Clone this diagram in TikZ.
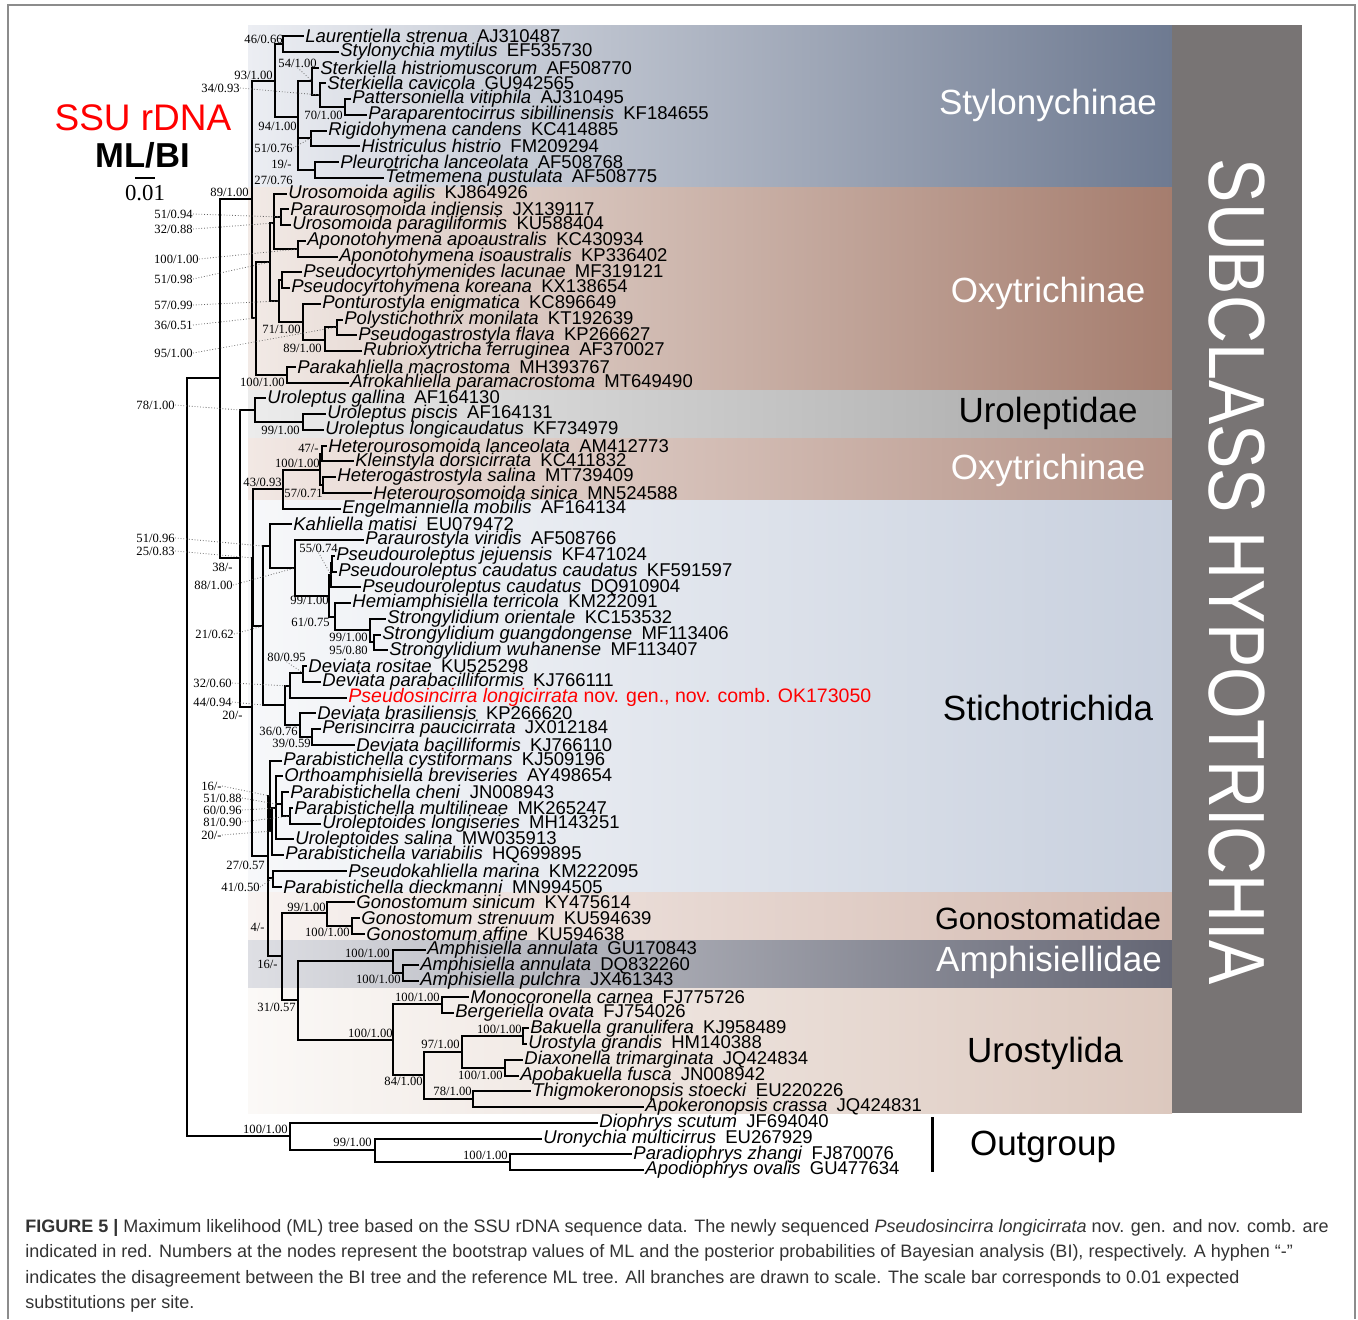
\documentclass[tikz,border=0pt]{standalone}
\usepackage{fontspec}
\usepackage{graphicx}
\setmainfont{Liberation Sans}
\newfontfamily\numserif{Liberation Serif}
\usetikzlibrary{positioning}

\definecolor{styL}{RGB}{236,238,243}
\definecolor{styR}{RGB}{110,122,145}
\definecolor{oxyL}{RGB}{242,234,230}
\definecolor{oxyR}{RGB}{165,125,110}
\definecolor{uroL}{RGB}{236,236,236}
\definecolor{uroR}{RGB}{165,165,165}
\definecolor{oxbL}{RGB}{242,232,228}
\definecolor{oxbR}{RGB}{180,146,134}
\definecolor{stiL}{RGB}{247,248,250}
\definecolor{stiR}{RGB}{200,208,222}
\definecolor{gonL}{RGB}{248,243,241}
\definecolor{gonR}{RGB}{212,186,176}
\definecolor{amphL}{RGB}{222,223,228}
\definecolor{amphR}{RGB}{100,102,116}
\definecolor{ustL}{RGB}{251,249,247}
\definecolor{ustR}{RGB}{220,200,190}
\definecolor{subgray}{RGB}{120,116,116}

\newcommand\taxon[2]{\textit{#1}\enspace#2}
\newcommand\leaffont{\fontsize{9.25}{10}\selectfont}
\newcommand\suppfont{\numserif\fontsize{6.3}{7}\selectfont}

\tikzset{
  leaf/.style={anchor=west, inner sep=0.5pt, font=\leaffont},
  supp/.style={anchor=east, inner sep=0pt, font=\suppfont},
  branch/.style={line width=1pt},
  leader/.style={densely dotted, line width=0.4pt, black!60},
  clade/.style={font=\fontsize{17.5}{18}\selectfont}
}

\begin{document}
\begin{tikzpicture}[x=0.5pt, y=-0.5pt]
  \useasboundingbox (0,0) rectangle (1358,1319);
  \fill[white] (0,0) rectangle (1358,1319);
  \draw[black!45, line width=0.6pt] (8,1319) -- (8,5) -- (1355,5) -- (1355,1319);

  % coloured bands behind the clades
  \shade[left color=styL, right color=styR] (248,25) rectangle (1172,187);
  \shade[left color=oxyL, right color=oxyR] (248,187) rectangle (1172,390);
  \shade[left color=uroL, right color=uroR] (248,390) rectangle (1172,438);
  \shade[left color=oxbL, right color=oxbR] (248,438) rectangle (1172,500);
  \shade[left color=stiL, right color=stiR] (248,500) rectangle (1172,892);
  \shade[left color=gonL, right color=gonR] (248,892) rectangle (1172,940);
  \shade[left color=amphL, right color=amphR] (248,940) rectangle (1172,988);
  \shade[left color=ustL, right color=ustR] (248,988) rectangle (1172,1113);
  \fill[subgray] (1172,25) rectangle (1302,1113);

  % title and scale bar
  \node[red, font=\fontsize{18.5}{19}\selectfont] (title) at (143,118) {SSU rDNA};
  \node[font=\bfseries\fontsize{17.3}{19}\selectfont] (method) at (143,155) {ML/BI};
  \draw[line width=1pt] (135,178) -- (155,178);
  \node[font=\numserif\fontsize{11.4}{12}\selectfont] (scale) at (145,193) {0.01};

  % taxa
  \foreach \x/\name/\acc [count=\i] in {
    304/Laurentiella strenua/AJ310487, 339/Stylonychia mytilus/EF535730,
    319/Sterkiella histriomuscorum/AF508770, 326/Sterkiella cavicola/GU942565,
    351/Pattersoniella vitiphila/AJ310495, 367/Paraparentocirrus sibillinensis/KF184655,
    327/Rigidohymena candens/KC414885, 360/Histriculus histrio/FM209294,
    339/Pleurotricha lanceolata/AF508768, 384/Tetmemena pustulata/AF508775,
    287/Urosomoida agilis/KJ864926, 289/Paraurosomoida indiensis/JX139117,
    291/Urosomoida paragiliformis/KU588404, 306/Aponotohymena apoaustralis/KC430934,
    338/Aponotohymena isoaustralis/KP336402, 302/Pseudocyrtohymenides lacunae/MF319121,
    290/Pseudocyrtohymena koreana/KX138654, 321/Ponturostyla enigmatica/KC896649,
    343/Polystichothrix monilata/KT192639, 357/Pseudogastrostyla flava/KP266627,
    362/Rubrioxytricha ferruginea/AF370027, 296/Parakahliella macrostoma/MH393767,
    349/Afrokahliella paramacrostoma/MT649490, 266/Uroleptus gallina/AF164130,
    326/Uroleptus piscis/AF164131, 324/Uroleptus longicaudatus/KF734979,
    327/Heterourosomoida lanceolata/AM412773, 354/Kleinstyla dorsicirrata/KC411832,
    336/Heterogastrostyla salina/MT739409, 372/Heterourosomoida sinica/MN524588,
    341/Engelmanniella mobilis/AF164134, 292/Kahliella matisi/EU079472,
    364/Paraurostyla viridis/AF508766, 335/Pseudouroleptus jejuensis/KF471024,
    337/Pseudouroleptus caudatus caudatus/KF591597, 361/Pseudouroleptus caudatus/DQ910904,
    351/Hemiamphisiella terricola/KM222091, 386/Strongylidium orientale/KC153532,
    381/Strongylidium guangdongense/MF113406, 388/Strongylidium wuhanense/MF113407,
    307/Deviata rositae/KU525298, 321/Deviata parabacilliformis/KJ766111}
    \node[leaf] (l\i) at (\x,{36+15.75*(\i-1)}) {\taxon{\name}{\acc}};
  \node[leaf, red, font=\fontsize{9.75}{10}\selectfont] (l43) at (347,697.5)
    {\textit{Pseudosincirra longicirrata} nov. gen., nov. comb. OK173050};
  \foreach \x/\name/\acc [count=\i from 44] in {
    316/Deviata brasiliensis/KP266620, 321/Perisincirra paucicirrata/JX012184,
    355/Deviata bacilliformis/KJ766110, 282/Parabistichella cystiformans/KJ509196,
    283/Orthoamphisiella breviseries/AY498654, 289/Parabistichella cheni/JN008943,
    293/Parabistichella multilineae/MK265247, 321/Uroleptoides longiseries/MH143251,
    294/Uroleptoides salina/MW035913, 284/Parabistichella variabilis/HQ699895,
    347/Pseudokahliella marina/KM222095, 282/Parabistichella dieckmanni/MN994505,
    355/Gonostomum sinicum/KY475614, 360/Gonostomum strenuum/KU594639,
    365/Gonostomum affine/KU594638, 426/Amphisiella annulata/GU170843,
    419/Amphisiella annulata/DQ832260, 419/Amphisiella pulchra/JX461343,
    469/Monocoronella carnea/FJ775726, 454/Bergeriella ovata/FJ754026,
    529/Bakuella granulifera/KJ958489, 527/Urostyla grandis/HM140388,
    523/Diaxonella trimarginata/JQ424834, 519/Apobakuella fusca/JN008942,
    531/Thigmokeronopsis stoecki/EU220226, 644/Apokeronopsis crassa/JQ424831,
    598/Diophrys scutum/JF694040, 542/Uronychia multicirrus/EU267929,
    632/Paradiophrys zhangi/FJ870076, 644/Apodiophrys ovalis/GU477634}
    \node[leaf] (l\i) at (\x,{36+15.75*(\i-1)}) {\taxon{\name}{\acc}};

  % internal nodes
  \coordinate (A) at (283,44);   \coordinate (G) at (345,107);
  \coordinate (F) at (320,95);   \coordinate (E) at (312,81);
  \coordinate (H) at (311,138);  \coordinate (I) at (315,170);
  \coordinate (C) at (298,117);  \coordinate (B) at (275,81);
  \coordinate (Nsty) at (252,199);
  \coordinate (P) at (281,217);  \coordinate (Apo) at (298,249);
  \coordinate (U) at (274,223);  \coordinate (Ps) at (282,280);
  \coordinate (PG) at (337,327); \coordinate (PGR) at (325,340);
  \coordinate (Pt) at (303,322); \coordinate (Q) at (279,301);
  \coordinate (O270) at (270,262); \coordinate (K) at (287,375);
  \coordinate (O256) at (256,318);
  \coordinate (UP) at (303,422); \coordinate (UL) at (255,410);
  \coordinate (HK) at (322,454); \coordinate (HS) at (323,485);
  \coordinate (HX) at (320,470); \coordinate (EH) at (283,489);
  \coordinate (SG) at (374,642); \coordinate (ST) at (370,630);
  \coordinate (HS2) at (335,617); \coordinate (PJ1) at (332,563);
  \coordinate (PJ) at (331,575); \coordinate (PU) at (329,596);
  \coordinate (PP) at (295,568); \coordinate (KP) at (270,546);
  \coordinate (DR) at (303,673); \coordinate (DP) at (290,686);
  \coordinate (PB) at (312,737); \coordinate (DBr) at (300,725);
  \coordinate (DB) at (285,705); \coordinate (N263) at (263,626);
  \coordinate (NE) at (253,558);
  \coordinate (PM) at (290,816); \coordinate (PC) at (282,804);
  \coordinate (PO) at (276,808); \coordinate (PV) at (272,831);
  \coordinate (PY) at (270,796); \coordinate (PK) at (273,878);
  \coordinate (GA) at (352,926); \coordinate (GS) at (327,913);
  \coordinate (AP) at (403,973); \coordinate (AM) at (393,961);
  \coordinate (MB) at (442,1004); \coordinate (BU) at (523,1036);
  \coordinate (DA) at (505,1068); \coordinate (BG) at (462,1052);
  \coordinate (TA) at (473,1099); \coordinate (N424) at (424,1075);
  \coordinate (UR) at (393,1040); \coordinate (AU) at (298,1000);
  \coordinate (N282) at (282,956); \coordinate (N268c) at (268,917);
  \coordinate (N268) at (268,856); \coordinate (N252b) at (252,707);
  \coordinate (N240) at (240,558); \coordinate (N220) at (220,378);
  \coordinate (O3) at (510,1162); \coordinate (O2) at (375,1150);
  \coordinate (Out) at (290,1136); \coordinate (root) at (187,757);

  % branches
  \foreach \p/\c in {A/l1, A/l2, G/l5, G/l6, F/l4, F/G, E/l3, E/F, H/l7, H/l8,
      I/l9, I/l10, C/E, C/H, C/I, B/A, B/C, Nsty/B, Nsty/O256,
      P/l12, P/l13, Apo/l14, Apo/l15, U/l11, U/P, U/Apo, Ps/l16, Ps/l17,
      PG/l19, PG/l20, PGR/PG, PGR/l21, Pt/l18, Pt/PGR, Q/Ps, Q/Pt,
      O270/U, O270/Q, K/l22, K/l23, O256/O270, O256/K,
      UP/l25, UP/l26, UL/l24, UL/UP,
      HK/l27, HK/l28, HS/l29, HS/l30, HX/HK, HX/HS, EH/HX, EH/l31,
      SG/l39, SG/l40, ST/l38, ST/SG, HS2/l37, HS2/ST, PJ1/l34, PJ1/l35,
      PJ/PJ1, PJ/l36, PU/PJ, PU/HS2, PP/l33, PP/PU, KP/l32, KP/PP,
      DR/l41, DR/l42, DP/DR, DP/l43, PB/l45, PB/l46, DBr/l44, DBr/PB,
      DB/DP, DB/DBr, N263/KP, N263/DB, NE/EH, NE/N263,
      PM/l50, PM/l51, PC/l49, PC/PM, PO/l48, PO/PC, PO/l52, PV/PO, PV/l53,
      PY/l47, PY/PV, PK/l54, PK/l55,
      GA/l57, GA/l58, GS/l56, GS/GA, AP/l60, AP/l61, AM/l59, AM/AP,
      MB/l62, MB/l63, BU/l64, BU/l65, DA/l66, DA/l67, BG/BU, BG/DA,
      TA/l68, TA/l69, N424/BG, N424/TA, UR/MB, UR/N424, AU/AM, AU/UR,
      N282/GS, N282/AU, N268c/PK, N268c/N282, N268/PY, N268/N268c,
      N252b/NE, N252b/N268, N240/UL, N240/N252b, N220/Nsty, N220/N240,
      O3/l72, O3/l73, O2/l71, O2/O3, Out/l70, Out/O2, root/N220, root/Out}
    \draw[branch] (\p) |- (\c);

  % support values next to the nodes
  \node[supp] (bA) at (283,39) {46/0.66};
  \node[supp] (bB) at (273,75) {93/1.00};
  \node[supp] (bNsty) at (249,192) {89/1.00};
  \node[supp] (bC) at (297,126) {94/1.00};
  \node[supp] (bG) at (343,115) {70/1.00};
  \node[supp] (bI) at (292,164) {19/-};
  \node[supp] (bIb) at (293,180) {27/0.76};
  \node[supp] (bPt) at (301,329) {71/1.00};
  \node[supp] (bPGR) at (322,348) {89/1.00};
  \node[supp] (bK) at (285,382) {100/1.00};
  \node[supp] (bUP) at (300,430) {99/1.00};
  \node[supp] (bHK) at (319,448) {47/-};
  \node[supp] (bHX) at (320,463) {100/1.00};
  \node[supp] (bEH) at (282,482) {43/0.93};
  \node[supp] (bHS) at (323,493) {57/0.71};
  \node[supp] (bN240) at (233,567) {38/-};
  \node[supp] (bPU) at (329,600) {99/1.00};
  \node[supp] (bHS2) at (330,622) {61/0.75};
  \node[supp] (bST) at (368,637) {99/1.00};
  \node[supp] (bSG) at (368,650) {95/0.80};
  \node[supp] (bN252b) at (243,715) {20/-};
  \node[supp] (bDBr) at (298,731) {36/0.76};
  \node[supp] (bPB) at (311,743) {39/0.59};
  \node[supp] (bN268) at (265,865) {27/0.57};
  \node[supp] (bGS) at (326,907) {99/1.00};
  \node[supp] (bN268c) at (265,927) {4/-};
  \node[supp] (bGA) at (350,932) {100/1.00};
  \node[supp] (bAM) at (390,953) {100/1.00};
  \node[supp] (bN282) at (278,964) {16/-};
  \node[supp] (bAP) at (401,979) {100/1.00};
  \node[supp] (bMB) at (440,997) {100/1.00};
  \node[supp] (bAU) at (296,1007) {31/0.57};
  \node[supp] (bBU) at (522,1029) {100/1.00};
  \node[supp] (bUR) at (393,1033) {100/1.00};
  \node[supp] (bBG) at (460,1044) {97/1.00};
  \node[supp] (bDA) at (503,1075) {100/1.00};
  \node[supp] (bN424) at (423,1081) {84/1.00};
  \node[supp] (bTA) at (472,1091) {78/1.00};
  \node[supp] (bOut) at (288,1129) {100/1.00};
  \node[supp] (bO2) at (372,1142) {99/1.00};
  \node[supp] (bO3) at (508,1155) {100/1.00};

  % support values with dotted leaders
  \node[supp] (bF) at (240,88) {34/0.93};
  \node[supp] (bE) at (317,63) {54/1.00};
  \node[supp] (bH) at (293,148) {51/0.76};
  \node[supp] (bP) at (193,214) {51/0.94};
  \node[supp] (bU) at (193,229) {32/0.88};
  \node[supp] (bApo) at (199,259) {100/1.00};
  \node[supp] (bO270) at (193,279) {51/0.98};
  \node[supp] (bQ) at (193,305) {57/0.99};
  \node[supp] (bO256) at (193,325) {36/0.51};
  \node[supp] (bPG) at (193,353) {95/1.00};
  \node[supp] (bUL) at (175,405) {78/1.00};
  \node[supp] (bKP) at (175,538) {51/0.96};
  \node[supp] (bNE) at (175,551) {25/0.83};
  \node[supp] (bPP) at (233,585) {88/1.00};
  \node[supp] (bN263) at (234,634) {21/0.62};
  \node[supp] (bDP) at (232,683) {32/0.60};
  \node[supp] (bDB) at (232,702) {44/0.94};
  \node[supp] (bPJ) at (338,548) {55/0.74};
  \node[supp] (bDR) at (306,657) {80/0.95};
  \node[supp] (bPY) at (222,786) {16/-};
  \node[supp] (bPC) at (242,798) {51/0.88};
  \node[supp] (bPO) at (242,810) {60/0.96};
  \node[supp] (bPM) at (242,822) {81/0.90};
  \node[supp] (bPV) at (222,835) {20/-};
  \node[supp] (bPK) at (260,887) {41/0.50};
  \foreach \s/\t in {bF/F, bH/H, bP/P, bU/U, bApo/Apo, bO270/O270, bQ/Q,
      bO256/O256, bPG/PG, bNE/NE, bPP/PP, bN263/N263, bDP/DP, bPY/PY,
      bPO/PO, bPM/PM, bPV/PV, bPK/PK}
    \draw[leader] (\s.east) -- (\t);
  \draw[leader] (bE.south) -- (E);
  \draw[leader] (bPJ.south) -- (PJ);
  \draw[leader] (bDR.south) -- (DR);
  \draw[leader] (bUL.east) -- (N240 |- UL);
  \draw[leader] (bKP.east) -- (N263 |- KP);
  \draw[leader] (bDB.east) -- (N263 |- DB);
  \draw[leader] (bPC.east) -- (PO |- PC);

  % clade names
  \node[clade, white] (cSty) at (1048,105) {Stylonychinae};
  \node[clade, white] (cOxy) at (1048,293) {Oxytrichinae};
  \node[clade] (cUro) at (1048,413) {Uroleptidae};
  \node[clade, white] (cOxyb) at (1048,470) {Oxytrichinae};
  \node[clade] (cSti) at (1048,708) {Stichotrichida};
  \node[clade, font=\fontsize{15.4}{16}\selectfont] (cGon) at (1048,918) {Gonostomatidae};
  \node[clade, white] (cAmph) at (1049,962) {Amphisiellidae};
  \node[clade] (cUst) at (1045,1053) {Urostylida};
  \node[clade] (cOut) at (1043,1147) {Outgroup};
  \draw[line width=1.5pt] (932,1117) -- (932,1172);
  \node[white, rotate=-90, font=\fontsize{33.2}{34}\selectfont] (subclass) at (1237,572)
    {\scalebox{1}[1.2]{SUBCLASS HYPOTRICHIA}};

  % caption
  \node[anchor=north west, inner sep=0pt, align=left, black!80,
        font=\fontsize{9}{12.75}\selectfont] (capt) at (25,1219)
    {\textbf{FIGURE 5 |} Maximum likelihood (ML) tree based on the SSU rDNA sequence data. The newly sequenced \textit{Pseudosincirra longicirrata} nov. gen. and nov. comb. are\\
     indicated in red. Numbers at the nodes represent the bootstrap values of ML and the posterior probabilities of Bayesian analysis (BI), respectively. A hyphen “-”\\
     indicates the disagreement between the BI tree and the reference ML tree. All branches are drawn to scale. The scale bar corresponds to 0.01 expected\\
     substitutions per site.};
\end{tikzpicture}
\end{document}
